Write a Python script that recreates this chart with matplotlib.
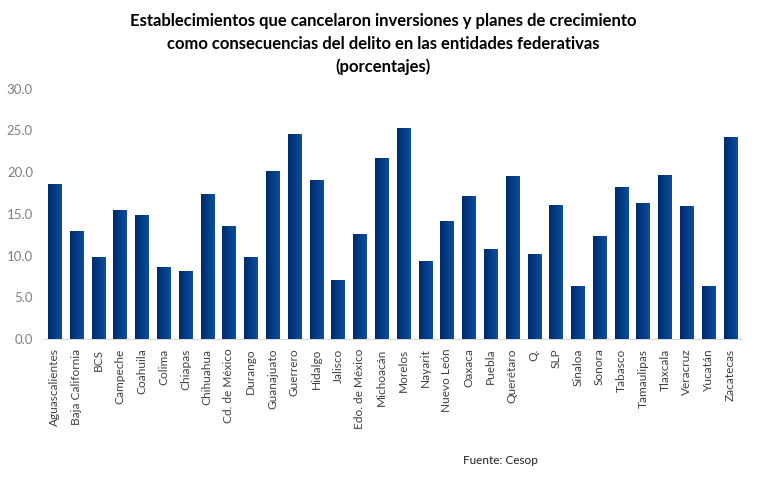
import matplotlib
matplotlib.use("Agg")
import matplotlib.pyplot as plt
import numpy as np

# datos
estados = ["Aguascalientes", "Baja California", "BCS", "Campeche", "Coahuila",
           "Colima", "Chiapas", "Chihuahua", "Cd. de México", "Durango",
           "Guanajuato", "Guerrero", "Hidalgo", "Jalisco", "Edo. de México",
           "Michoacán", "Morelos", "Nayarit", "Nuevo León", "Oaxaca", "Puebla",
           "Querétaro", "Q.", "SLP", "Sinaloa", "Sonora", "Tabasco",
           "Tamaulipas", "Tlaxcala", "Veracruz", "Yucatán", "Zacatecas"]
porcentajes = [18.6, 13.0, 9.8, 15.5, 14.9, 8.6, 8.1, 17.4, 13.6, 9.8,
               20.1, 24.6, 19.1, 7.1, 12.6, 21.7, 25.3, 9.4, 14.2, 17.2, 10.8,
               19.5, 10.2, 16.1, 6.3, 12.4, 18.2, 16.3, 19.7, 15.9, 6.4, 24.2]
yticks = [0, 5, 10, 15, 20, 25, 30]

plt.rcParams["font.family"] = ["Lato", "DejaVu Sans"]

fig = plt.figure(figsize=(7.62, 4.8), dpi=100)
ax = fig.add_axes([0.056, 0.294, 0.918, 0.521])

x = np.arange(len(estados))
bars = ax.bar(x, porcentajes, width=0.6, color="#0b3f8a", zorder=2)

# degradado horizontal en cada barra
grad = np.linspace(0, 1, 64).reshape(1, -1)
cmap = matplotlib.colors.LinearSegmentedColormap.from_list("azul", ["#002a68", "#0a4fa2"])
for b in bars:
    x0, w, h = b.get_x(), b.get_width(), b.get_height()
    im = ax.imshow(grad, cmap=cmap, aspect="auto", extent=[x0, x0 + w, 0, h], zorder=3)
    im.set_clip_path(b)

ax.set_xlim(-0.55, len(estados) - 0.45)
ax.set_ylim(0, 30)
ax.set_yticks(yticks)
ax.set_yticklabels([f"{v:.1f}" for v in yticks], color="#7f7f7f", fontsize=9.5)
ax.set_xticks(x)
ax.set_xticklabels(estados, rotation=90, fontsize=8.6, color="#404040")
ax.tick_params(length=0, pad=7)
for s in ["top", "right", "left"]:
    ax.spines[s].set_visible(False)
ax.spines["bottom"].set_color("#d9d9d9")

fig.text(0.503, 0.972, "Establecimientos que cancelaron inversiones y planes de crecimiento\n"
         "como consecuencias del delito en las entidades federativas\n(porcentajes)",
         ha="center", va="top", fontsize=12, fontweight="bold", linespacing=1.5)
fig.text(0.607, 0.04, "Fuente: Cesop", ha="left", va="center", fontsize=8.5, color="#202020")

fig.savefig("out.png", dpi=100)
